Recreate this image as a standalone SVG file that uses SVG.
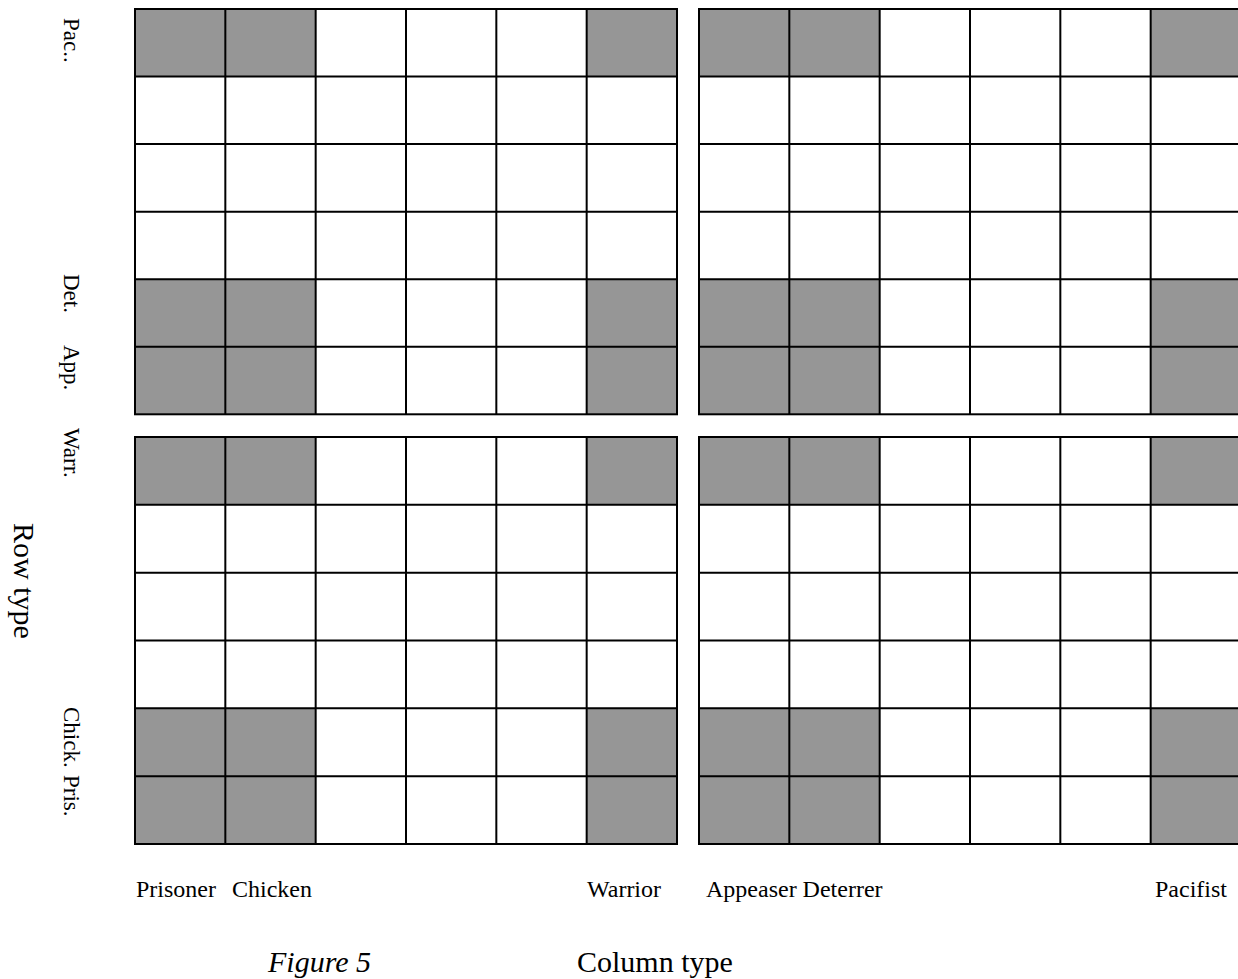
<svg xmlns="http://www.w3.org/2000/svg" width="1238" height="979" viewBox="0 0 1238 979">
<style>
.sh{fill:#969696;stroke:none}
.ln{fill:none;stroke:#000;stroke-width:2}
.lbl{font-family:"Liberation Serif","Times New Roman",serif;font-size:24px;fill:#000}
.rl{font-family:"Liberation Serif","Times New Roman",serif;font-size:23px;fill:#000}
.ax{font-family:"Liberation Serif","Times New Roman",serif;font-size:30px;fill:#000}
</style>
<rect width="1238" height="979" fill="#fff"/>
<g id="grid-top-left">
<rect class="sh" x="135" y="9" width="180.67" height="67.55"/>
<rect class="sh" x="586.67" y="9" width="90.33" height="67.55"/>
<rect class="sh" x="135" y="279.2" width="180.67" height="135.1"/>
<rect class="sh" x="586.67" y="279.2" width="90.33" height="135.1"/>
<rect class="ln" x="135" y="9" width="542" height="405.3"/>
<path class="ln" d="M225.33 9V414.3M315.67 9V414.3M406 9V414.3M496.33 9V414.3M586.67 9V414.3M135 76.55H677M135 144.1H677M135 211.65H677M135 279.2H677M135 346.75H677"/>
</g>
<g id="grid-top-right">
<rect class="sh" x="699" y="9" width="180.67" height="67.55"/>
<rect class="sh" x="1150.67" y="9" width="90.33" height="67.55"/>
<rect class="sh" x="699" y="279.2" width="180.67" height="135.1"/>
<rect class="sh" x="1150.67" y="279.2" width="90.33" height="135.1"/>
<rect class="ln" x="699" y="9" width="542" height="405.3"/>
<path class="ln" d="M789.33 9V414.3M879.67 9V414.3M970 9V414.3M1060.33 9V414.3M1150.67 9V414.3M699 76.55H1241M699 144.1H1241M699 211.65H1241M699 279.2H1241M699 346.75H1241"/>
</g>
<g id="grid-bottom-left">
<rect class="sh" x="135" y="437" width="180.67" height="67.83"/>
<rect class="sh" x="586.67" y="437" width="90.33" height="67.83"/>
<rect class="sh" x="135" y="708.33" width="180.67" height="135.67"/>
<rect class="sh" x="586.67" y="708.33" width="90.33" height="135.67"/>
<rect class="ln" x="135" y="437" width="542" height="407"/>
<path class="ln" d="M225.33 437V844M315.67 437V844M406 437V844M496.33 437V844M586.67 437V844M135 504.83H677M135 572.67H677M135 640.5H677M135 708.33H677M135 776.17H677"/>
</g>
<g id="grid-bottom-right">
<rect class="sh" x="699" y="437" width="180.67" height="67.83"/>
<rect class="sh" x="1150.67" y="437" width="90.33" height="67.83"/>
<rect class="sh" x="699" y="708.33" width="180.67" height="135.67"/>
<rect class="sh" x="1150.67" y="708.33" width="90.33" height="135.67"/>
<rect class="ln" x="699" y="437" width="542" height="407"/>
<path class="ln" d="M789.33 437V844M879.67 437V844M970 437V844M1060.33 437V844M1150.67 437V844M699 504.83H1241M699 572.67H1241M699 640.5H1241M699 708.33H1241M699 776.17H1241"/>
</g>
<g id="row-labels">
<text class="rl" transform="translate(64,18) rotate(90)">Pac..</text>
<text class="rl" transform="translate(64,274) rotate(90)">Det.</text>
<text class="rl" transform="translate(64,345) rotate(90)">App.</text>
<text class="rl" transform="translate(64,428) rotate(90)">Warr.</text>
<text class="rl" transform="translate(64,707) rotate(90)">Chick.</text>
<text class="rl" transform="translate(64,775) rotate(90)">Pris.</text>
<text class="ax" transform="translate(14,523) rotate(90)">Row type</text>
</g>
<g id="column-labels">
<text class="lbl" x="136" y="897">Prisoner</text>
<text class="lbl" x="232" y="897">Chicken</text>
<text class="lbl" x="587" y="897">Warrior</text>
<text class="lbl" x="706" y="897">Appeaser Deterrer</text>
<text class="lbl" x="1155" y="897">Pacifist</text>
<text class="ax" x="577" y="972">Column type</text>
<text class="ax" x="268" y="972" font-style="italic">Figure 5</text>
</g>
</svg>
